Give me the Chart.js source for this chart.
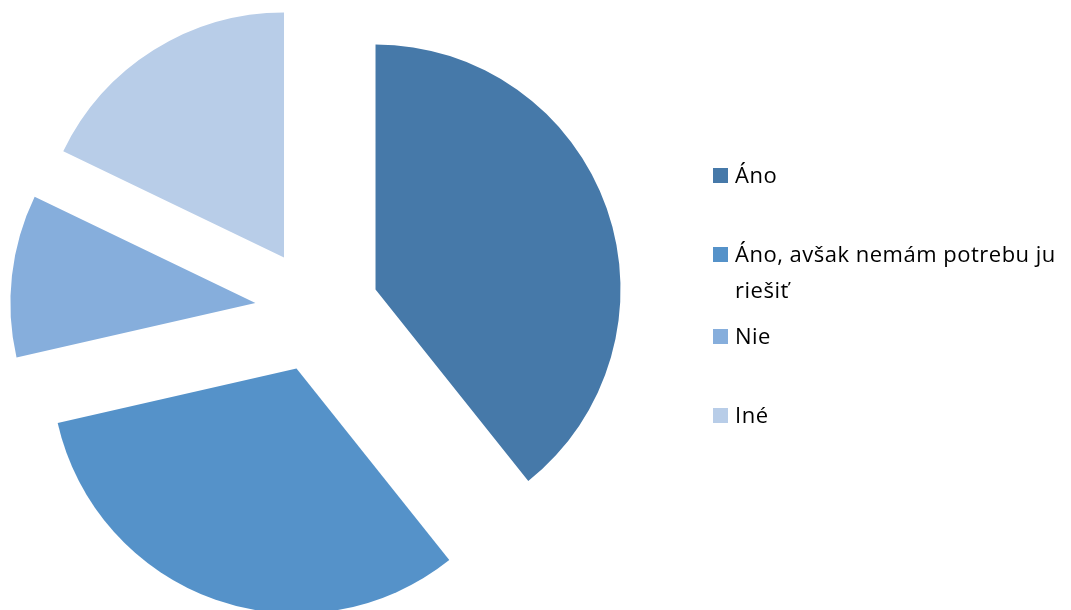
<!DOCTYPE html>
<html>
<head>
<meta charset="utf-8">
<script src="https://cdn.jsdelivr.net/npm/chart.js@4.4.0/dist/chart.umd.min.js"></script>
<style>
  html, body { margin: 0; padding: 0; background: #fff; }
  #wrap { position: relative; width: 1071px; height: 610px; overflow: hidden; }
  #c { position: absolute; left: 0; top: 0; }
  .lg { position: absolute; left: 713px; width: 356px; font-family: "Open Sans", sans-serif; font-size: 22px; letter-spacing: 0.5px; line-height: 36px; color: #000; }
  .lg .sw { position: absolute; left: 0; top: 12px; width: 15px; height: 15px; }
  .lg .tx { margin-left: 22px; display: block; }
</style>
</head>
<body>
<div id="wrap">
  <canvas id="c" width="1071" height="610"></canvas>
  <div id="legend"></div>
</div>
<script>
const categories = ["Áno", "Áno, avšak nemám potrebu ju riešiť", "Nie", "Iné"];
const values = [11, 9, 3, 5];
const colors = ["#4679A9", "#5592C9", "#86AEDC", "#B8CDE8"];
const legendBaselines = [182, 261, 343, 422];

const explode = 62; // pixel distance each slice is pulled out

// Chart.js enlarges exploded slices by offset*(1-sin(circumference)); keep pure translation
const pureExplode = {
  id: 'pureExplode',
  beforeDatasetsDraw(chart) {
    chart.getDatasetMeta(0).data.forEach(arc => { arc.circumference = Math.PI / 2; });
  }
};

new Chart(document.getElementById('c'), {
  type: 'pie',
  data: {
    labels: categories,
    datasets: [{
      data: values,
      backgroundColor: colors,
      borderWidth: 0,
      offset: explode * 4
    }]
  },
  options: {
    responsive: false,
    animation: false,
    radius: 245,
    layout: { padding: { top: 10, right: 437, left: 0, bottom: 0 } },
    plugins: {
      legend: { display: false },
      tooltip: { enabled: false }
    },
    events: []
  },
  plugins: [pureExplode]
});

const lg = document.getElementById('legend');
categories.forEach((name, i) => {
  const d = document.createElement('div');
  d.className = 'lg';
  d.style.top = (legendBaselines[i] - 26) + 'px';
  const sw = document.createElement('span');
  sw.className = 'sw';
  sw.style.background = colors[i];
  const tx = document.createElement('span');
  tx.className = 'tx';
  tx.textContent = name;
  d.appendChild(sw);
  d.appendChild(tx);
  lg.appendChild(d);
});
</script>
</body>
</html>
